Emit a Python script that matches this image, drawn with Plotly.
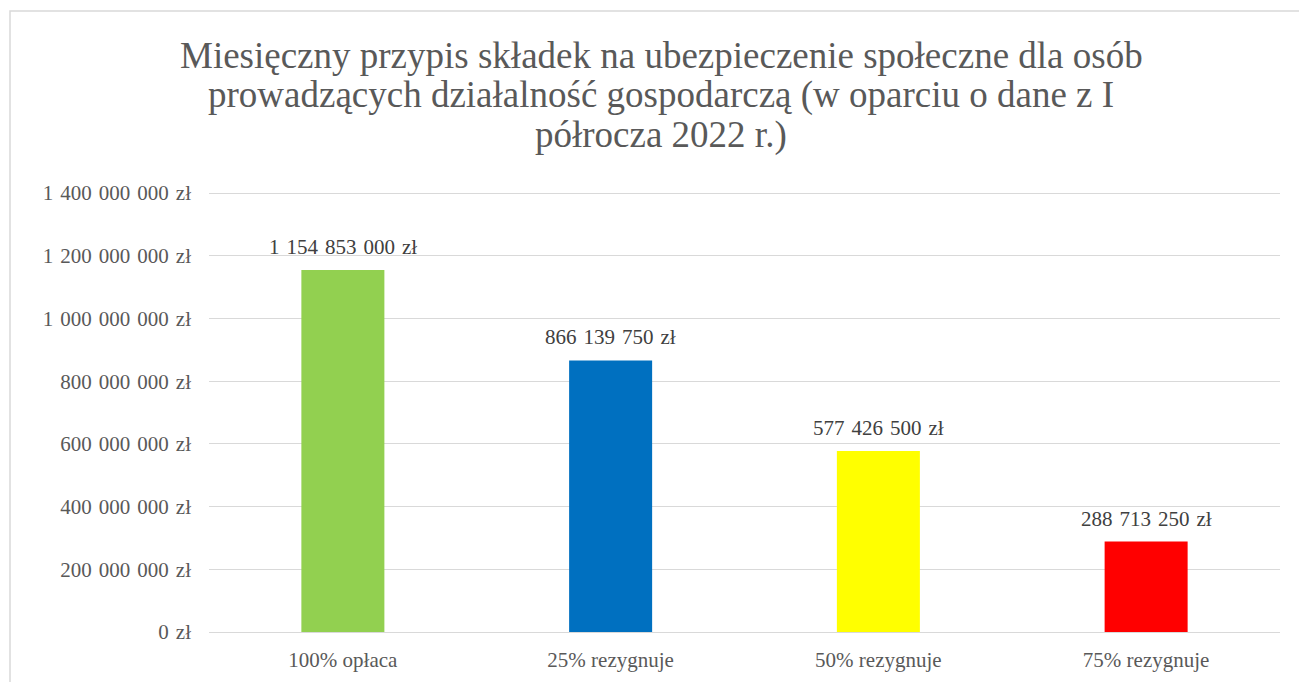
import plotly.graph_objects as go

categories = ["100% opłaca", "25% rezygnuje", "50% rezygnuje", "75% rezygnuje"]
values = [1154853000, 866139750, 577426500, 288713250]
colors = ["#92D050", "#0070C0", "#FFFF00", "#FF0000"]
tick_values = [0, 200000000, 400000000, 600000000, 800000000, 1000000000, 1200000000, 1400000000]
title_lines = [
    "Miesięczny przypis składek na ubezpieczenie społeczne dla osób",
    "prowadzących działalność gospodarczą (w oparciu o dane z I",
    "półrocza 2022 r.)",
]

SP = "\u2004"


def fmt(v):
    return "{:,}".format(v).replace(",", SP) + SP + "zł"


W, H = 1299, 682
L, R, T, B = 209, 19, 190, 50

fig = go.Figure(go.Bar(
    x=categories, y=values, marker=dict(color=colors, line=dict(width=0)),
    width=0.31, hoverinfo="skip",
))

for c, v in zip(categories, values):
    fig.add_annotation(x=c, y=v, xref="x", yref="y", text=fmt(v), showarrow=False,
                       xanchor="center", yanchor="bottom", yshift=9,
                       font=dict(family="Liberation Serif", size=21, color="#404040"))

fig.update_layout(
    width=W, height=H,
    margin=dict(l=L, r=R, t=T, b=B),
    paper_bgcolor="white", plot_bgcolor="white",
    showlegend=False,
    font=dict(family="Liberation Serif", color="#595959", size=21),
    yaxis=dict(range=[0, 1410000000], tickvals=tick_values,
               ticktext=[fmt(v) for v in tick_values],
               showgrid=True, gridcolor="#D9D9D9", gridwidth=1.3,
               zeroline=False, showline=False, ticks="", ticklen=0,
               ticklabelstandoff=17,
               tickfont=dict(size=21, color="#595959"), automargin=False),
    xaxis=dict(showline=True, linecolor="#D9D9D9", linewidth=1.3, ticks="",
               ticklabelstandoff=9,
               tickfont=dict(size=21, color="#595959"), automargin=False),
)

pw, ph = W - L - R, H - T - B
def px(x):
    return (x - L) / pw
def py(y):
    return (H - B - y) / ph

fig.add_shape(type="rect", xref="paper", yref="paper",
              x0=px(10), x1=px(1320), y0=py(700), y1=py(11),
              line=dict(color="#D9D9D9", width=1.5), fillcolor="rgba(0,0,0,0)", layer="below")

for i, line in enumerate(title_lines):
    fig.add_annotation(text=line, xref="paper", yref="paper", x=px(661), y=py(55 + 40 * i),
                       showarrow=False, xanchor="center", yanchor="middle",
                       font=dict(family="Liberation Serif", size=37, color="#595959"))

fig.write_html("out.html", config={"displayModeBar": False},
               post_script="document.body.style.margin='0';")
